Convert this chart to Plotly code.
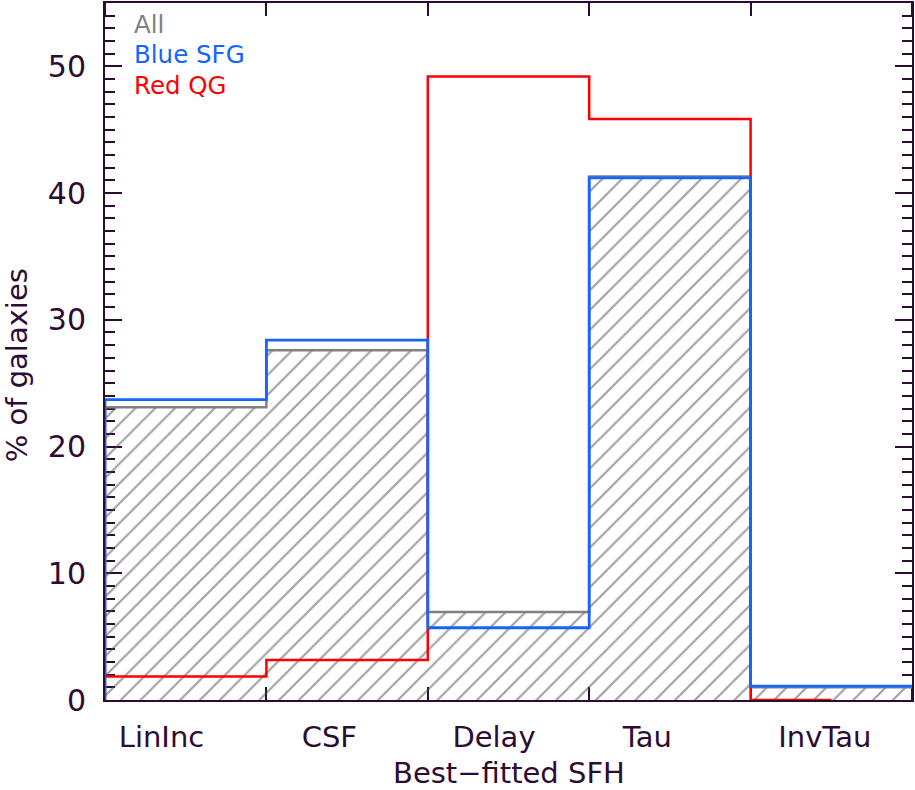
import numpy as np
import plotly.graph_objects as go

categories = ["LinInc", "CSF", "Delay", "Tau", "InvTau"]
all_pct = [23.1, 27.6, 6.95, 41.3, 1.0]
blue_pct = [23.7, 28.4, 5.7, 41.2, 1.1]
red_pct = [1.85, 3.15, 49.2, 45.85, 0.0]
label_pos = [0.35, 1.39, 2.41, 3.36, 4.46]

AX = "#2d0c33"
GRAY = "#808080"
BLUE = "#1464ff"
RED = "#ff0000"
FONT = "DejaVu Sans"

edges = list(np.arange(len(categories) + 1, dtype=float))


def steps(vals, start_zero=True, end_x=None):
    xs = list(edges[:-1]) + [edges[-1] if end_x is None else end_x]
    ys = list(vals) + [vals[-1]]
    if start_zero:
        xs = [edges[0]] + xs
        ys = [0.0] + ys
    return xs, ys


fig = go.Figure()

ax_, ay_ = steps(all_pct)
fig.add_trace(go.Scatter(
    x=ax_, y=ay_, mode="lines", line_shape="hv",
    line=dict(color=GRAY, width=2.5),
    fill="tozeroy", fillcolor="rgba(0,0,0,0)",
    fillpattern=dict(shape="/", size=14, solidity=0.16,
                     fgcolor="#474747", bgcolor="rgba(0,0,0,0)"),
    showlegend=False, hoverinfo="skip"))

rx, ry = steps(red_pct, start_zero=False, end_x=edges[-2] + 0.5)
fig.add_trace(go.Scatter(
    x=rx, y=ry, mode="lines", line_shape="hv",
    line=dict(color=RED, width=2.5), showlegend=False))

bx, by = steps(blue_pct)
fig.add_trace(go.Scatter(
    x=bx, y=by, mode="lines", line_shape="hv",
    line=dict(color=BLUE, width=2.8), showlegend=False))

fig.update_layout(
    width=915, height=790,
    margin=dict(l=105, r=3, t=1, b=90),
    paper_bgcolor="white", plot_bgcolor="white",
    font=dict(family=FONT, size=30, color=AX),
    showlegend=False,
)

fig.update_xaxes(
    range=[0, 5], showgrid=False, zeroline=False,
    showline=True, linecolor=AX, linewidth=2, mirror="ticks",
    tickmode="array", tickvals=label_pos, ticktext=categories,
    ticks="", ticklabelstandoff=10,
    tickfont=dict(family=FONT, size=29, color=AX),
    minor=dict(tick0=0, dtick=1, ticks="inside", ticklen=13,
               tickwidth=2, tickcolor=AX, showgrid=False),
    layer="below traces",
)
fig.update_yaxes(
    range=[0, 55], showgrid=False, zeroline=False,
    showline=True, linecolor=AX, linewidth=2, mirror="ticks",
    tickmode="linear", tick0=0, dtick=10,
    ticks="inside", ticklen=17, tickwidth=2, tickcolor=AX,
    ticklabelstandoff=11,
    tickfont=dict(family=FONT, size=30, color=AX),
    minor=dict(tick0=0, dtick=1, ticks="inside", ticklen=10,
               tickwidth=2, tickcolor=AX, showgrid=False),
    layer="below traces",
)

ann = [
    dict(text="Best\u2212fitted SFH", x=0.5, y=-0.105, xref="paper", yref="paper",
         xanchor="center", yanchor="middle", showarrow=False,
         font=dict(family=FONT, size=29, color=AX)),
    dict(text="% of galaxies", x=-0.108, y=0.48, xref="paper", yref="paper",
         xanchor="center", yanchor="middle", textangle=-90, showarrow=False,
         font=dict(family=FONT, size=29, color=AX)),
]
for txt, col, yy in [("All", GRAY, 0.9685), ("Blue SFG", BLUE, 0.926), ("Red QG", RED, 0.882)]:
    ann.append(dict(text=txt, x=0.034, y=yy, xref="paper", yref="paper",
                    xanchor="left", yanchor="middle", showarrow=False,
                    font=dict(family=FONT, size=24.5, color=col)))
fig.update_layout(annotations=ann)

fig.write_html("out.html")
